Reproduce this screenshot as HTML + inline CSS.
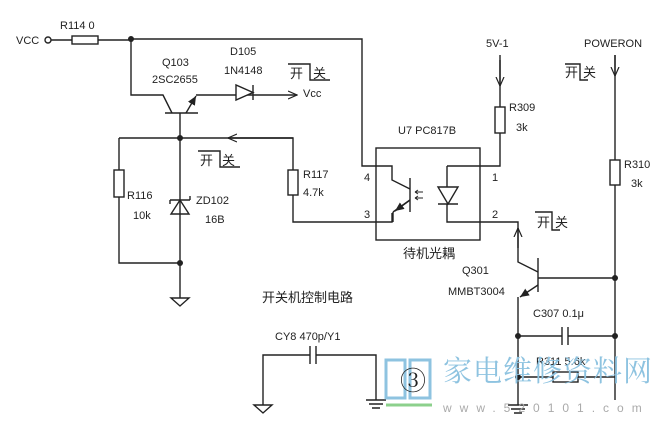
<!DOCTYPE html>
<html><head><meta charset="utf-8"><style>body{margin:0;background:#fff}svg{display:block}text{font-family:"Liberation Sans","Noto Sans CJK SC",sans-serif;fill:#222}</style></head><body>
<svg width="662" height="432" viewBox="0 0 662 432" xmlns="http://www.w3.org/2000/svg">
<defs><marker id="a" markerWidth="10" markerHeight="10" refX="9" refY="5" orient="auto" markerUnits="userSpaceOnUse"><path d="M0,1 L9,5 L0,9" fill="none" stroke="#222" stroke-width="1.2"/></marker>
<marker id="f" markerWidth="10" markerHeight="10" refX="9" refY="5" orient="auto" markerUnits="userSpaceOnUse"><path d="M0,1 L9,5 L0,9z" fill="#222"/></marker></defs>
<g fill="none" stroke="#222" stroke-width="1.4">
<circle cx="48" cy="40" r="3"/>
<path d="M51,40H72M98,40H131"/>
<rect x="72" y="36" width="26" height="8"/>
<path d="M131,39H362V166H392V180L410,189"/>
<path d="M131,39V95H163L172,113"/>
<path d="M165,113H198"/>
<path d="M186,113L196,96" marker-end="url(#f)"/>
<path d="M196,95H297" marker-end="url(#a)"/>
<path d="M180,113V263"/>
<path d="M236,85V100L253,92.5Z" fill="#fff"/>
<path d="M253,85V100"/>
<path d="M119,138H293V170M293,195V222H392V213"/>
<path d="M293,138H228" marker-end="url(#a)"/>
<rect x="288" y="170" width="10" height="25"/>
<path d="M119,138V170M119,197V263H180V298"/>
<rect x="114" y="170" width="10" height="27"/>
<path d="M171,298H189L180,306Z"/>
<path d="M171,214H189L180,200Z"/>
<path d="M170,200H190M170,200V204M190,200V196"/>
<rect x="376" y="148" width="104" height="92"/>
<path d="M410,178V212M410,200L393,212"/>
<path d="M393,212V222"/>
<path d="M410,200L395,211" marker-end="url(#f)"/>
<path d="M423,192H415M423,198H415" stroke-width="1"/>
<path d="M415,192l3,-2M415,192l3,2M415,198l3,-2M415,198l3,2" stroke-width="1"/>
<path d="M438,187H458L448,204Z"/>
<path d="M438,204H458"/>
<path d="M447,166V187M447,204V222H518V262L538,272"/>
<path d="M447,166H500V133M500,107V55"/>
<path d="M500,60V86" marker-end="url(#a)"/>
<rect x="495" y="107" width="10" height="26"/>
<path d="M518,248V228" marker-end="url(#a)"/>
<path d="M538,258V292M538,278H615"/>
<path d="M538,285L520,297" marker-end="url(#f)"/>
<path d="M518,297V405"/>
<path d="M518,336H562M568,336H615M562,327V345M568,327V345"/>
<path d="M518,377H553M578,377H615"/>
<rect x="553" y="372" width="25" height="10"/>
<path d="M508,405H528M511,409H525M514,413H522"/>
<path d="M615,55V160M615,185V400"/>
<path d="M615,55V76" marker-end="url(#a)"/>
<rect x="610" y="160" width="10" height="25"/>
<path d="M263,405V355H310M316,355H376V400M310,346V364M316,346V364"/>
<path d="M254,405H272L263,413Z"/>
<path d="M366,400H386M369,404H383M372,408H380"/>
<path d="M288,64H310V80H330M198,151H220V167H240M565,64H580V80H588M535,212H552V230H560"/>
</g>
<g fill="#222" stroke="none">
<circle cx="131" cy="39" r="3"/><circle cx="180" cy="138" r="3"/><circle cx="180" cy="263" r="3"/>
<circle cx="615" cy="278" r="3"/><circle cx="518" cy="336" r="3"/><circle cx="615" cy="336" r="3"/><circle cx="518" cy="377" r="3"/>
</g>
<g font-size="11">
<text x="16" y="44">VCC</text><text x="60" y="29">R114 0</text>
<text x="162" y="66">Q103</text><text x="152" y="83">2SC2655</text>
<text x="230" y="55">D105</text><text x="224" y="74">1N4148</text>
<text x="303" y="97">Vcc</text>
<text x="303" y="178">R117</text><text x="303" y="196">4.7k</text>
<text x="127" y="199">R116</text><text x="133" y="219">10k</text>
<text x="196" y="204">ZD102</text><text x="205" y="223">16B</text>
<text x="398" y="134">U7 PC817B</text>
<text x="364" y="181">4</text><text x="364" y="218">3</text><text x="492" y="181">1</text><text x="492" y="218">2</text>
<text x="486" y="47">5V-1</text><text x="584" y="47">POWERON</text>
<text x="509" y="111">R309</text><text x="516" y="131">3k</text>
<text x="624" y="168">R310</text><text x="631" y="187">3k</text>
<text x="462" y="274">Q301</text><text x="448" y="295">MMBT3004</text>
<text x="533" y="317">C307 0.1μ</text><text x="536" y="365">R311 5.6k</text>
<text x="275" y="340">CY8 470p/Y1</text>
</g>
<g font-size="13">
<text x="290" y="78">开</text><text x="313" y="78">关</text>
<text x="200" y="165">开</text><text x="222" y="165">关</text>
<text x="565" y="77">开</text><text x="583" y="77">关</text>
<text x="537" y="227">开</text><text x="555" y="227">关</text>
<text x="403" y="258">待机光耦</text>
<text x="262" y="302">开关机控制电路</text>
</g>
<path d="M386,360V398H405V360ZM410,360V398H430V360Z" fill="none" stroke="#8ec3e0" stroke-width="3"/>
<path d="M386,405H432" stroke="#8cd08c" stroke-width="3"/>
<text x="400" y="390" font-size="26" style="font-family:'Liberation Serif','Noto Serif CJK SC',serif">③</text>
<text x="443" y="381" font-size="29" style="fill:#8ec3e0;font-family:'Noto Serif CJK SC',serif" letter-spacing="1">家电维修资料网</text>
<text x="443" y="412" font-size="12" style="fill:#aaa" letter-spacing="8">www.520101.com</text>
</svg>
</body></html>
